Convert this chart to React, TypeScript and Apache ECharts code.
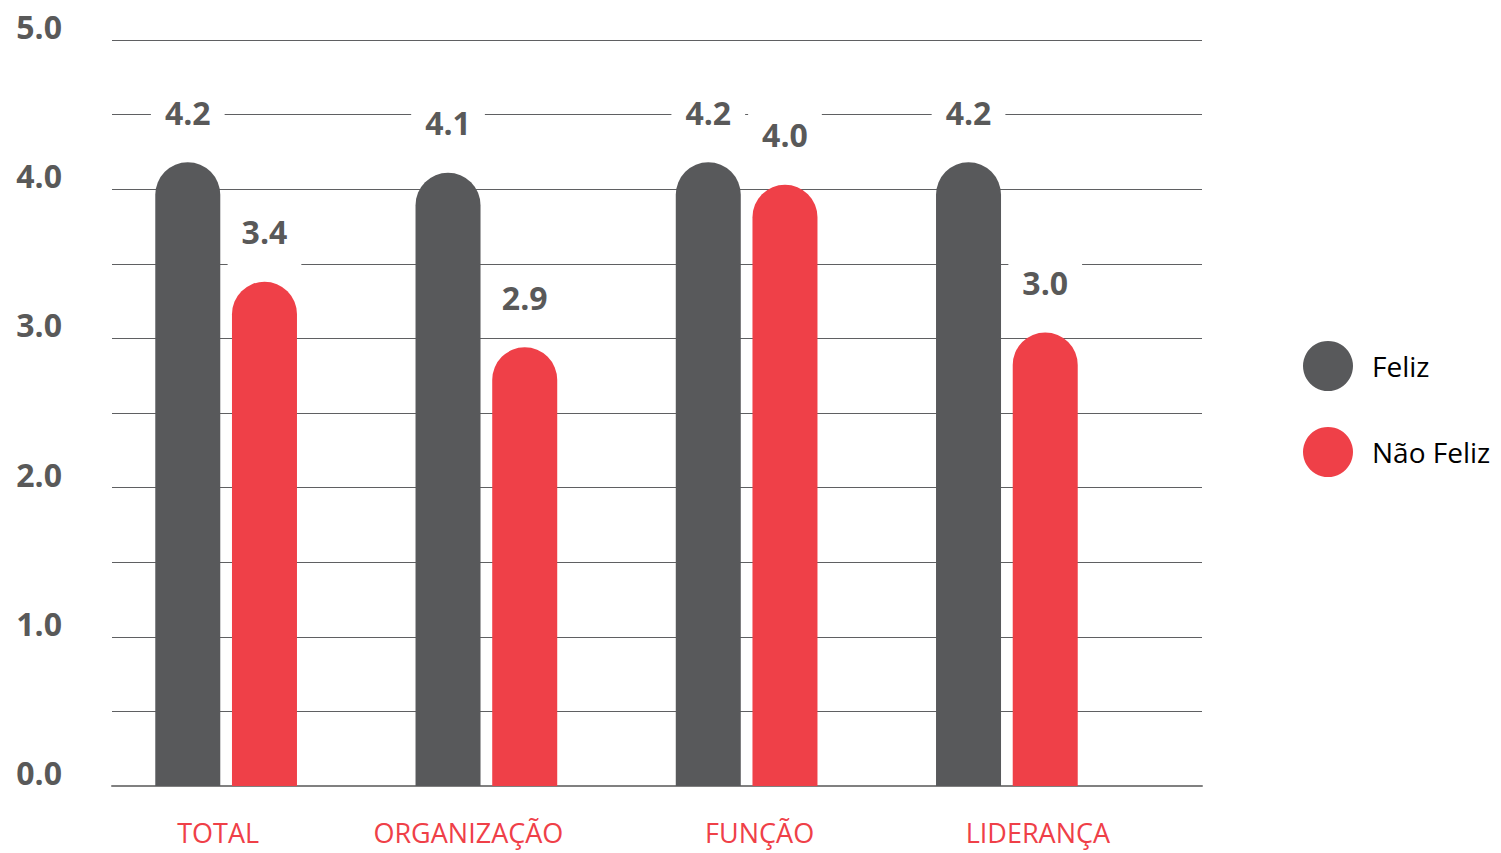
import React, { useEffect, useRef } from "react";
import * as echarts from "echarts";

const categories = ["TOTAL", "ORGANIZAÇÃO", "FUNÇÃO", "LIDERANÇA"];
const feliz = [4.18, 4.11, 4.18, 4.18];
const naoFeliz = [3.38, 2.94, 4.03, 3.04];
const seriesNames = ["Feliz", "Não Feliz"];
const yMin = 0;
const yMax = 5;
const yStep = 0.5;

// horizontal nudge of each category label (layout only)
const labelShift = [-8, -18, 13, 31];

const GRAY = "#58595b";
const RED = "#ef4048";
const FONT = "'Open Sans', 'Liberation Sans', sans-serif";

export default function App() {
  const ref = useRef<HTMLDivElement>(null);

  useEffect(() => {
    if (!ref.current) return;
    const chart = echarts.init(ref.current, null, { renderer: "svg" });

    const valueLabel = {
      show: true,
      position: "top",
      distance: 10,
      formatter: (p: any) => Number(p.value).toFixed(1),
      color: "#595959",
      fontFamily: FONT,
      fontWeight: "bold",
      fontSize: 32,
      lineHeight: 30,
      backgroundColor: "#ffffff",
      padding: [14, 14, 25, 14],
    };

    const catData = categories.map((c, i) => {
      const s = labelShift[i];
      return {
        value: c,
        textStyle: {
          padding: s < 0 ? [0, -2 * s, 0, 0] : [0, 0, 0, 2 * s],
        },
      };
    });

    chart.setOption({
      animation: false,
      backgroundColor: "#ffffff",
      grid: [
        { left: 112, right: 299, top: 40, bottom: 67, containLabel: false },
        { left: 96, right: 364, top: 40, bottom: 67, containLabel: false },
      ],
      xAxis: [
        {
          gridIndex: 0,
          type: "category",
          data: categories,
          axisLine: { show: true, lineStyle: { color: "#808080", width: 2 } },
          axisTick: { show: false },
          axisLabel: { show: false },
          splitLine: { show: false },
        },
        {
          gridIndex: 1,
          type: "category",
          data: catData,
          axisLine: { show: false },
          axisTick: { show: false },
          axisLabel: {
            show: true,
            margin: 33,
            color: RED,
            fontFamily: FONT,
            fontSize: 27,
            lineHeight: 27,
          },
          splitLine: { show: false },
        },
      ],
      yAxis: [
        {
          gridIndex: 0,
          type: "value",
          min: yMin,
          max: yMax,
          interval: yStep,
          axisLine: { show: false },
          axisTick: { show: false },
          splitLine: { show: true, lineStyle: { color: "#5f6062", width: 1.2 } },
          axisLabel: {
            show: true,
            margin: 50,
            color: "#595959",
            fontFamily: FONT,
            fontWeight: "bold",
            fontSize: 32,
            verticalAlign: "bottom",
            lineHeight: 27,
            formatter: (v: number) =>
              Math.abs(v - Math.round(v)) < 1e-6 ? v.toFixed(1) : "",
          },
        },
        {
          gridIndex: 1,
          type: "value",
          min: yMin,
          max: yMax,
          interval: yStep,
          show: false,
          splitLine: { show: false },
        },
      ],
      legend: {
        orient: "vertical",
        left: 1303,
        top: 341,
        padding: 0,
        itemWidth: 50,
        itemHeight: 50,
        itemGap: 36,
        icon: "circle",
        data: seriesNames,
        textStyle: {
          color: "#000000",
          fontFamily: FONT,
          fontSize: 28,
          padding: [0, 0, 4, 14],
        },
      },
      series: [
        {
          name: seriesNames[0],
          type: "bar",
          xAxisIndex: 1,
          yAxisIndex: 1,
          data: feliz,
          barWidth: 65,
          barGap: "18%",
          itemStyle: { color: GRAY, borderRadius: [32.5, 32.5, 0, 0] },
          label: valueLabel,
          z: 3,
        },
        {
          name: seriesNames[1],
          type: "bar",
          xAxisIndex: 1,
          yAxisIndex: 1,
          data: naoFeliz,
          barWidth: 65,
          barGap: "18%",
          itemStyle: { color: RED, borderRadius: [32.5, 32.5, 0, 0] },
          label: valueLabel,
          z: 3,
        },
      ],
    });

    return () => {
      chart.dispose();
    };
  }, []);

  return (
    <div
      ref={ref}
      style={{ position: "absolute", left: 0, top: 0, width: 1501, height: 853 }}
    />
  );
}
